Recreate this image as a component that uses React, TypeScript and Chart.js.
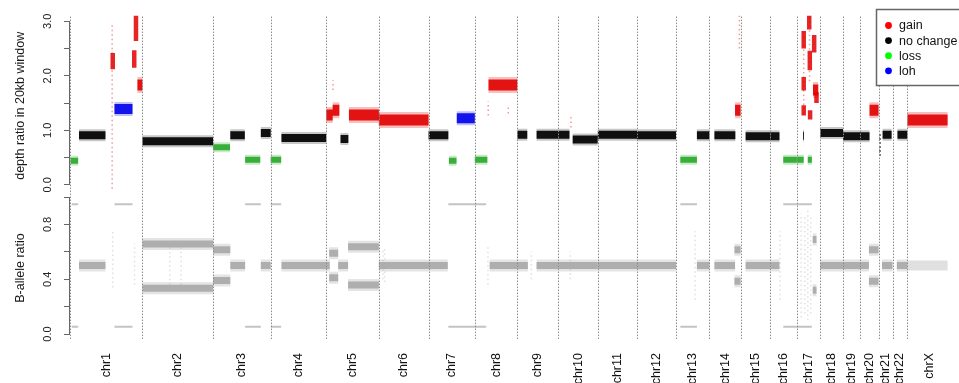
import React, { useEffect, useRef } from "react";
import { Chart, registerables } from "chart.js";

Chart.register(...registerables);

// ---------- chromosomes (hg19 lengths, Mb) ----------
const chromNames = [
  "chr1", "chr2", "chr3", "chr4", "chr5", "chr6", "chr7", "chr8", "chr9", "chr10", "chr11", "chr12",
  "chr13", "chr14", "chr15", "chr16", "chr17", "chr18", "chr19", "chr20", "chr21", "chr22", "chrX",
];
const chromLengths = [
  249.25, 243.2, 198.0, 191.15, 180.9, 171.1, 159.1, 146.4, 141.2, 135.5, 135.0, 133.85,
  115.2, 107.35, 102.5, 90.35, 81.2, 78.1, 59.1, 63.0, 48.1, 51.3, 155.3,
];
const genomeVisibleEnd = 3019;

// ---------- depth ratio segments: [chromosome, start Mb, end Mb, ratio] ----------
type Seg = [string, number, number, number];
type Streak = [string, number, number, number]; // chromosome, Mb, low, high

const gainSegments: Seg[] = [
  ["chr1", 232, 249, 1.83],
  ["chr5", 0, 22, 1.28],
  ["chr5", 22, 45, 1.37],
  ["chr5", 78, 181, 1.28],
  ["chr6", 0, 171, 1.19],
  ["chr8", 47, 146, 1.83],
  ["chr14", 88, 107, 1.37],
  ["chr17", 56, 74, 1.74],
  ["chr20", 32, 63, 1.37],
  ["chrX", 0, 155, 1.19],
];
const noChangeSegments: Seg[] = [
  ["chr1", 31, 122, 0.91],
  ["chr2", 0, 243, 0.8],
  ["chr3", 59, 109, 0.91],
  ["chr3", 164, 198, 0.95],
  ["chr4", 37, 191, 0.86],
  ["chr5", 49, 76, 0.84],
  ["chr7", 0, 68, 0.91],
  ["chr9", 0, 34, 0.92],
  ["chr9", 66, 141, 0.92],
  ["chr10", 0, 38, 0.92],
  ["chr10", 49, 135, 0.83],
  ["chr11", 0, 135, 0.92],
  ["chr12", 0, 134, 0.91],
  ["chr13", 72, 115, 0.91],
  ["chr14", 17, 89, 0.91],
  ["chr15", 17, 102, 0.89],
  ["chr16", 0, 31, 0.89],
  ["chr17", 22, 25, 0.9],
  ["chr18", 0, 78, 0.95],
  ["chr19", 0, 59, 0.89],
  ["chr20", 0, 32, 0.89],
  ["chr21", 14, 45, 0.92],
  ["chr22", 17, 51, 0.92],
];
const lossSegments: Seg[] = [
  ["chr1", 2, 28, 0.44],
  ["chr3", 0, 58, 0.69],
  ["chr3", 110, 162, 0.46],
  ["chr4", 0, 36, 0.46],
  ["chr7", 70, 96, 0.44],
  ["chr8", 0, 43, 0.46],
  ["chr13", 15, 72, 0.46],
  ["chr16", 44, 90, 0.46],
  ["chr17", 0, 24, 0.46],
  ["chr17", 38, 52, 0.46],
];
const lohSegments: Seg[] = [
  ["chr1", 153, 215, 1.39],
  ["chr7", 97, 159, 1.22],
];
const gainBlobs: Streak[] = [
  ["chr1", 147, 2.12, 2.42],
  ["chr1", 221, 2.15, 2.47],
  ["chr1", 227, 2.64, 3.1],
  ["chr17", 24, 2.5, 2.82],
  ["chr17", 24, 1.73, 1.98],
  ["chr17", 24, 1.27, 1.46],
  ["chr17", 43, 2.85, 3.1],
  ["chr17", 45, 2.1, 2.46],
  ["chr17", 46, 1.2, 1.37],
  ["chr17", 60, 2.43, 2.75],
  ["chr17", 68, 1.5, 1.7],
];
const gainScatter: Streak[] = [
  ["chr1", 145, -0.07, 2.94],
  ["chr5", 23, 1.74, 1.92],
  ["chr8", 46, 1.27, 1.53],
  ["chr8", 115, 1.31, 1.46],
  ["chr10", 43, 1.05, 1.3],
  ["chr14", 103, 2.5, 3.1],
  ["chr17", 24, 1.3, 2.8],
  ["chr17", 44, 1.9, 3.1],
];
const noChangeScatter: Streak[] = [
  ["chr21", 5, 0.53, 0.95],
];

// ---------- B-allele ratio ----------
const bafSegments: Seg[] = [
  ["chr1", 31, 122, 0.5],
  ["chr2", 0, 243, 0.657],
  ["chr2", 0, 243, 0.335],
  ["chr3", 0, 59, 0.615],
  ["chr3", 0, 59, 0.39],
  ["chr3", 59, 110, 0.5],
  ["chr3", 164, 198, 0.5],
  ["chr4", 37, 191, 0.5],
  ["chr5", 0, 12, 0.5],
  ["chr5", 10, 41, 0.59],
  ["chr5", 10, 41, 0.41],
  ["chr5", 41, 75, 0.5],
  ["chr5", 75, 181, 0.638],
  ["chr5", 75, 181, 0.358],
  ["chr6", 0, 171, 0.5],
  ["chr7", 0, 66, 0.5],
  ["chr8", 51, 146, 0.5],
  ["chr9", 0, 36, 0.5],
  ["chr9", 66, 141, 0.5],
  ["chr10", 0, 135, 0.5],
  ["chr11", 0, 135, 0.5],
  ["chr12", 0, 134, 0.5],
  ["chr13", 72, 115, 0.5],
  ["chr14", 17, 88, 0.5],
  ["chr14", 86, 107, 0.615],
  ["chr14", 86, 107, 0.385],
  ["chr15", 17, 102, 0.5],
  ["chr16", 0, 31, 0.5],
  ["chr17", 55, 68, 0.69],
  ["chr17", 55, 68, 0.32],
  ["chr18", 0, 78, 0.5],
  ["chr19", 0, 59, 0.5],
  ["chr20", 0, 30, 0.5],
  ["chr20", 30, 63, 0.615],
  ["chr20", 30, 63, 0.385],
  ["chr21", 12, 48, 0.5],
  ["chr22", 15, 51, 0.5],
];
const bafFaintSegments: Seg[] = [
  ["chrX", 0, 155, 0.5],
];
const bafLohLines: Seg[] = [
  ["chr1", 6, 28, 0.947], ["chr1", 6, 28, 0.053],
  ["chr1", 153, 215, 0.947], ["chr1", 153, 215, 0.053],
  ["chr3", 110, 164, 0.947], ["chr3", 110, 164, 0.053],
  ["chr4", 0, 36, 0.947], ["chr4", 0, 36, 0.053],
  ["chr7", 68, 159, 0.947], ["chr7", 68, 159, 0.053],
  ["chr8", 0, 39, 0.947], ["chr8", 0, 39, 0.053],
  ["chr13", 15, 72, 0.947], ["chr13", 15, 72, 0.053],
  ["chr16", 44, 90, 0.947], ["chr16", 44, 90, 0.053],
  ["chr17", 0, 52, 0.947], ["chr17", 0, 52, 0.053],
];
const bafScatter: Streak[] = [
  ["chr1", 147, 0.34, 0.75],
  ["chr1", 222, 0.36, 0.66],
  ["chr2", 94, 0.36, 0.64],
  ["chr2", 133, 0.36, 0.64],
  ["chr6", 14, 0.4, 0.62],
  ["chr6", 20, 0.38, 0.62],
  ["chr8", 45, 0.36, 0.64],
  ["chr9", 48, 0.4, 0.6],
  ["chr10", 41, 0.4, 0.6],
  ["chr13", 66, 0.25, 0.75],
  ["chr16", 33, 0.25, 0.75],
  ["chr17", 15, 0.12, 0.88],
  ["chr17", 28, 0.15, 0.85],
  ["chr17", 38, 0.1, 0.9],
  ["chr17", 48, 0.15, 0.85],
];

// ---------- axes ----------
const depthTicks = [0, 0.5, 1, 1.5, 2, 2.5, 3];
const depthTickLabels = ["0.0", "", "1.0", "", "2.0", "", "3.0"];
const bafTicks = [0, 0.2, 0.4, 0.6, 0.8, 1.0];
const bafTickLabels = ["0.0", "", "0.4", "", "0.8", ""];
const depthTitle = "depth ratio in 20kb window";
const bafTitle = "B-allele ratio";

const legendLabels = ["gain", "no change", "loss", "loh"];
const legendColors = ["#ff0000", "#000000", "#00ff00", "#0000ff"];

// ---------- helpers ----------
const chromStarts: number[] = [];
{
  let acc = 0;
  for (const len of chromLengths) {
    chromStarts.push(acc);
    acc += len;
  }
}
const chromMidpoints = chromStarts.map((s, i) => s + chromLengths[i] / 2);
const gpos = (chrom: string, mb: number) => chromStarts[chromNames.indexOf(chrom)] + mb;

function segmentPoints(segs: Seg[]) {
  const pts: { x: number; y: number | null }[] = [];
  for (const [c, s, e, v] of segs) {
    pts.push({ x: gpos(c, s), y: v }, { x: gpos(c, e), y: v }, { x: gpos(c, e), y: null });
  }
  return pts;
}
function streakPoints(st: Streak[]) {
  const pts: { x: number; y: number | null }[] = [];
  for (const [c, p, lo, hi] of st) {
    const x = gpos(c, p);
    pts.push({ x, y: lo }, { x, y: hi }, { x, y: null });
  }
  return pts;
}
function ds(data: any[], color: string, width: number, yAxisID: string, dash: number[] = []) {
  return {
    type: "line" as const,
    data,
    borderColor: color,
    backgroundColor: color,
    borderWidth: width,
    borderDash: dash,
    pointRadius: 0,
    pointHitRadius: 0,
    fill: false,
    tension: 0,
    spanGaps: false,
    borderCapStyle: "butt" as const,
    yAxisID,
  };
}

const chromLinesPlugin = {
  id: "chromLines",
  afterDatasetsDraw(chart: any) {
    const { ctx, chartArea, scales } = chart;
    ctx.save();
    ctx.strokeStyle = "#8a8a8a";
    ctx.lineWidth = 1;
    ctx.setLineDash([1.5, 1.5]);
    for (const s of chromStarts) {
      const x = Math.round(scales.x.getPixelForValue(s)) + 0.5;
      if (x > chartArea.right) continue;
      ctx.beginPath();
      ctx.moveTo(x, chartArea.top + 2);
      ctx.lineTo(x, chartArea.bottom);
      ctx.stroke();
    }
    ctx.restore();
  },
};

const axisLinePlugin = {
  id: "axisLines",
  afterDraw(chart: any) {
    const { ctx, chartArea, scales } = chart;
    ctx.save();
    ctx.strokeStyle = "#666";
    ctx.lineWidth = 1;
    const x = chartArea.left - 0.5;
    const d = scales.yDepth;
    const b = scales.yBaf;
    ctx.beginPath();
    ctx.moveTo(x, d.getPixelForValue(depthTicks[0]));
    ctx.lineTo(x, d.getPixelForValue(depthTicks[depthTicks.length - 1]));
    ctx.moveTo(x, b.getPixelForValue(bafTicks[0]));
    ctx.lineTo(x, b.getPixelForValue(bafTicks[bafTicks.length - 1]));
    ctx.stroke();
    ctx.restore();
  },
};

const legendPlugin = {
  id: "cnLegend",
  afterDraw(chart: any) {
    const { ctx } = chart;
    ctx.save();
    ctx.fillStyle = "#fff";
    ctx.strokeStyle = "#666";
    ctx.lineWidth = 1.5;
    ctx.fillRect(876.5, 9.5, 100, 76);
    ctx.strokeRect(876.5, 9.5, 100, 76);
    ctx.font = "12.5px 'Liberation Sans', Arial, sans-serif";
    ctx.textBaseline = "middle";
    legendLabels.forEach((lab, i) => {
      const y = 25.5 + i * 15.1;
      ctx.fillStyle = legendColors[i];
      ctx.beginPath();
      ctx.arc(888.5, y, 3.4, 0, Math.PI * 2);
      ctx.fill();
      ctx.fillStyle = "#111";
      ctx.fillText(lab, 899, y + 0.5);
    });
    ctx.restore();
  },
};

export default function App() {
  const ref = useRef<HTMLCanvasElement | null>(null);

  useEffect(() => {
    if (!ref.current) return;
    Chart.defaults.font.family = "'Liberation Sans', Arial, sans-serif";

    const RED = "rgba(226,0,0,";
    const BLACK = "rgba(0,0,0,";
    const GREEN = "rgba(40,168,40,";
    const BLUE = "rgba(0,0,235,";
    const GRAY = "rgba(165,165,165,";

    const datasets: any[] = [
      // depth panel (first listed = drawn on top)
      ds(segmentPoints(gainSegments), RED + "0.9)", 11, "yDepth"),
      ds(streakPoints(gainBlobs), RED + "0.85)", 4.5, "yDepth"),
      ds(segmentPoints(lohSegments), BLUE + "0.9)", 10, "yDepth"),
      ds(segmentPoints(lossSegments), GREEN + "0.9)", 6, "yDepth"),
      ds(segmentPoints(noChangeSegments), BLACK + "0.92)", 8, "yDepth"),
      ds(segmentPoints(gainSegments), RED + "0.25)", 16, "yDepth"),
      ds(segmentPoints(lohSegments), BLUE + "0.25)", 14, "yDepth"),
      ds(segmentPoints(lossSegments), GREEN + "0.25)", 10, "yDepth"),
      ds(segmentPoints(noChangeSegments), BLACK + "0.22)", 12, "yDepth"),
      ds(streakPoints(gainScatter), RED + "0.4)", 1.5, "yDepth", [1.5, 3]),
      ds(streakPoints(noChangeScatter), BLACK + "0.5)", 2, "yDepth", [2, 2]),
      // B-allele panel
      ds(segmentPoints(bafSegments), GRAY + "0.85)", 7, "yBaf"),
      ds(segmentPoints(bafSegments), GRAY + "0.3)", 12, "yBaf"),
      ds(segmentPoints(bafFaintSegments), GRAY + "0.35)", 10, "yBaf"),
      ds(segmentPoints(bafLohLines), "rgba(190,190,190,0.9)", 2, "yBaf"),
      ds(streakPoints(bafScatter), GRAY + "0.35)", 1.5, "yBaf", [1.5, 3]),
    ];

    const yCommon = (ticks: number[], labels: string[], title: string) => ({
      type: "linear" as const,
      position: "left" as const,
      stack: "panels",
      afterBuildTicks: (s: any) => {
        s.ticks = ticks.map((value) => ({ value }));
      },
      afterFit: (s: any) => {
        s.width = 70;
      },
      grid: { drawOnChartArea: false, drawTicks: true, tickLength: 6, color: "#666" },
      border: { display: false },
      ticks: {
        autoSkip: false,
        minRotation: 90,
        maxRotation: 90,
        crossAlign: "center" as const,
        padding: 8,
        color: "#222",
        font: { size: 11 },
        callback: (_v: any, i: number) => labels[i],
      },
      title: {
        display: true,
        text: title,
        color: "#1a1a1a",
        font: { size: 12.5 },
        padding: { top: 13, bottom: 0 },
      },
    });

    const chart = new Chart(ref.current, {
      type: "line",
      data: { datasets },
      options: {
        animation: false,
        responsive: false,
        devicePixelRatio: 1,
        events: [],
        layout: { padding: { top: 10, left: 0, right: 0, bottom: 0 } },
        plugins: { legend: { display: false }, tooltip: { enabled: false } },
        scales: {
          x: {
            type: "linear",
            min: 0,
            max: genomeVisibleEnd,
            afterBuildTicks: (s: any) => {
              s.ticks = chromMidpoints.map((value) => ({ value }));
            },
            afterFit: (s: any) => {
              s.height = 44;
            },
            grid: { display: false, drawTicks: false },
            border: { display: false },
            ticks: {
              autoSkip: false,
              minRotation: 90,
              maxRotation: 90,
              padding: 14,
              color: "#111",
              font: { size: 12.5 },
              callback: (_v: any, i: number) => chromNames[i],
            },
          },
          yBaf: { ...yCommon(bafTicks, bafTickLabels, bafTitle), stackWeight: 144, min: -0.036, max: 1.0 },
          yDepth: { ...yCommon(depthTicks, depthTickLabels, depthTitle), stackWeight: 185, min: -0.223, max: 3.123 },
        } as any,
      },
      plugins: [chromLinesPlugin, axisLinePlugin, legendPlugin],
    });
    return () => chart.destroy();
  }, []);

  return (
    <div style={{ position: "fixed", left: 0, top: 0, width: 959, height: 383, background: "#fff" }}>
      <canvas ref={ref} width={959} height={383} style={{ width: 959, height: 383, display: "block" }} />
    </div>
  );
}
